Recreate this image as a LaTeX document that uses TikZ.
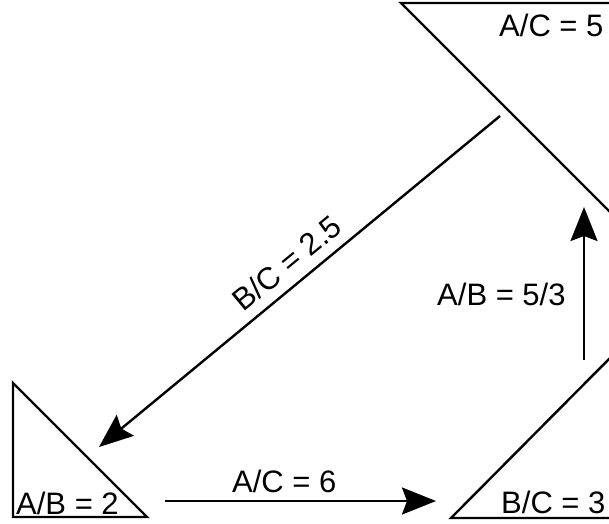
\documentclass[tikz,border=0pt]{standalone}
\usepackage{fontspec}
\setmainfont{Liberation Sans}
\usetikzlibrary{arrows.meta}

\begin{document}
\begin{tikzpicture}[x=1pt,y=-1pt]

\tikzstyle{every node}=[inner sep=0pt,font=\fontsize{31}{37}\selectfont];
\tikzstyle{tri}=[line width=2.4pt,line join=miter];
\tikzstyle{link}=[line width=2.4pt,-{Stealth[length=34pt,width=27pt,inset=5pt]}];

\useasboundingbox (0,0) rectangle (609,523);

% Draw the three triangles
\coordinate (tA) at (401,3);
\coordinate (tB) at (13,383);
\coordinate (tC) at (451,518);
\draw[tri] (tA) -- (612,3) -- (612,214) -- cycle;
\draw[tri] (tB) -- (13,517) -- (147,517) -- cycle;
\draw[tri] (tC) -- (612,518) -- (612,356) -- cycle;

% Labels inside the triangles
\node[anchor=base west] (ac5) at (499,36.7) {A/C = 5};
\node[anchor=base west] (ab2) at (16,514) {A/B = 2};
\node[anchor=base west] (bc3) at (501,513) {B/C = 3};

% Ends of the exchange arrows
\coordinate (s1) at (500,116);
\coordinate (e1) at (99,447);
\coordinate (s2) at (165,501);
\coordinate (e2) at (436,501);
\coordinate (s3) at (584,360);
\coordinate (e3) at (584,207);

% Links between the triangles
\draw[link] (s1) -- (e1);
\draw[link] (s2) -- (e2);
\draw[link] (s3) -- (e3);

% Rates on the arrows
\node[rotate=39.5] (bc25) at (287,263) {B/C = 2.5};
\node[anchor=base west] (ac6) at (232,492) {A/C = 6};
\node[anchor=base west] (ab53) at (437,305) {A/B = 5/3};

\end{tikzpicture}
\end{document}
